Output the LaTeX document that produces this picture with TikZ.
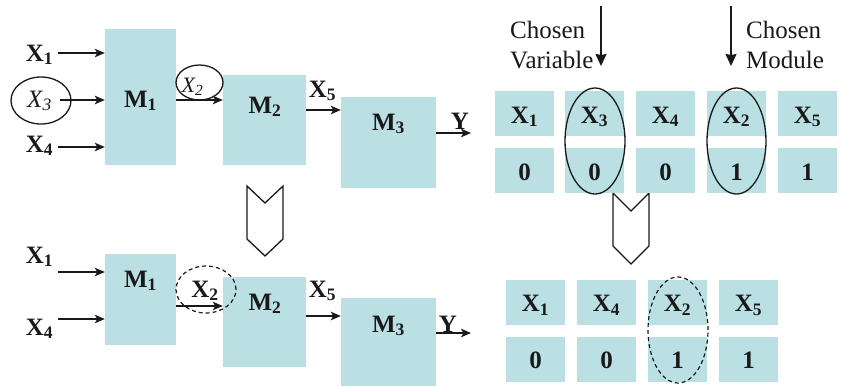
\documentclass[tikz,border=0pt]{standalone}
\usepackage{fontspec}
\setmainfont{Liberation Serif}
\usetikzlibrary{arrows.meta,shapes.geometric}
\definecolor{cellc}{RGB}{186,224,227}
\definecolor{ink}{RGB}{25,25,25}
\begin{document}
\begin{tikzpicture}[x=1pt,y=-1pt,
  every node/.style={font=\fontsize{25}{30}\selectfont, text=ink},
  modbox/.style={fill=cellc, draw=none, inner sep=0pt},
  lbl/.style={anchor=base, inner sep=0pt},
  cell/.style={fill=cellc, draw=none, inner sep=0pt, minimum width=59pt, minimum height=45pt,
    text height=19pt, text depth=0pt, font=\fontsize{25}{30}\selectfont\bfseries},
  arr/.style={draw=ink, line width=1.5pt, -{Stealth[length=10pt,width=8.5pt,inset=2.5pt]}},
  bigarr/.style={draw=ink, line width=1.4pt, -{Stealth[length=12pt,width=11pt,inset=1pt]}},
  ring/.style={draw=ink, line width=1.3pt},
  chev/.style={draw=ink, line width=1.3pt, fill=white, line join=miter}]
\useasboundingbox (0,0) rectangle (845,386);

% ---------- top left ----------
\node[modbox, minimum width=71pt, minimum height=136pt] (m1) at (140.5,97) {};
\node[modbox, minimum width=83pt, minimum height=90pt] (m2) at (264.5,120) {};
\node[modbox, minimum width=95pt, minimum height=91pt] (m3) at (388.5,142.5) {};
\node[lbl] (m1l) at (140.5,107) {\bfseries M\textsubscript{1}};
\node[lbl] (m2l) at (265,113) {\bfseries M\textsubscript{2}};
\node[lbl] (m3l) at (388.5,130) {\bfseries M\textsubscript{3}};

\node[lbl] (x1) at (39.5,61) {\bfseries X\textsubscript{1}};
\node[lbl] (x3) at (39.5,107) {\itshape X\textsubscript{3}};
\node[lbl] (x4) at (39.5,152) {\bfseries X\textsubscript{4}};
\node[draw=ink, line width=1.3pt, ellipse, minimum width=60pt, minimum height=47pt, inner sep=0pt] (x3ring) at (41,100.5) {};
\coordinate (s1) at (58,53);
\coordinate (s3) at (60,100);
\coordinate (s4) at (58,147);
\draw[arr] (s1) -- (s1 -| m1.west);
\draw[arr] (s3) -- (s3 -| m1.west);
\draw[arr] (s4) -- (s4 -| m1.west);

\node[draw=ink, line width=1.3pt, ellipse, minimum width=47pt, minimum height=35pt, inner sep=0pt] (x2ring) at (199.5,82.5) {};
\node[lbl, font=\fontsize{22}{26}\selectfont] (x2) at (192.5,92) {\itshape X\textsubscript{2}};
\draw[arr] (m1.east |- 0,100) -- (m2.west |- 0,100);

\node[lbl] (x5) at (322.5,97) {\bfseries X\textsubscript{5}};
\draw[arr] (m2.east |- 0,110) -- (m3.west |- 0,110);

\coordinate (ytop) at (471,133);
\draw[arr] (m3.east |- ytop) -- (ytop);
\node[lbl] (yl) at (460,129) {\bfseries Y};

% ---------- chevrons ----------
\draw[chev] (247,186) -- (265,203) -- (283,186) -- (283,239) -- (265,256) -- (247,239) -- cycle;
\draw[chev] (613,193) -- (631,211) -- (649,193) -- (649,246) -- (631,264) -- (613,246) -- cycle;

% ---------- bottom left ----------
\node[modbox, minimum width=71pt, minimum height=91pt] (n1) at (140.5,299.5) {};
\node[modbox, minimum width=83pt, minimum height=90pt] (n2) at (264.5,322) {};
\node[modbox, minimum width=95pt, minimum height=88pt] (n3) at (388.5,342) {};
\node[lbl] (n1l) at (140.5,287) {\bfseries M\textsubscript{1}};
\node[lbl] (n2l) at (265,310) {\bfseries M\textsubscript{2}};
\node[lbl] (n3l) at (388.5,332) {\bfseries M\textsubscript{3}};

\node[lbl] (bx1) at (39.5,263) {\bfseries X\textsubscript{1}};
\node[lbl] (bx4) at (39.5,335) {\bfseries X\textsubscript{4}};
\coordinate (t1) at (58,272);
\coordinate (t4) at (58,319);
\draw[arr] (t1) -- (t1 -| n1.west);
\draw[arr] (t4) -- (t4 -| n1.west);

\node[lbl] (bx2) at (205,297) {\bfseries X\textsubscript{2}};
\node[draw=ink, line width=1.2pt, dashed, dash pattern=on 4pt off 3pt, ellipse, minimum width=60pt, minimum height=47pt, inner sep=0pt] (bx2ring) at (206,289.5) {};
\draw[arr] (n1.east |- 0,306) -- (n2.west |- 0,306);

\node[lbl] (bx5) at (322.5,297) {\bfseries X\textsubscript{5}};
\draw[arr] (n2.east |- 0,316) -- (n3.west |- 0,316);

\coordinate (ybot) at (471,333);
\draw[arr] (n3.east |- ybot) -- (ybot);
\node[lbl] (byl) at (448,332) {\bfseries Y};

% ---------- top right ----------
\node[align=left, anchor=north west, inner sep=0pt] (cv) at (510,21) {Chosen\\Variable};
\node[align=left, anchor=north west, inner sep=0pt] (cm) at (746,21) {Chosen\\Module};
\coordinate (av0) at (601,6);
\coordinate (av1) at (601,66);
\coordinate (am0) at (731,6);
\coordinate (am1) at (731,66);
\draw[bigarr] (av0) -- (av1);
\draw[bigarr] (am0) -- (am1);

\node[cell] (a1) at (524.5,113.5) {X\textsubscript{1}};
\node[cell] (a2) at (594.5,113.5) {X\textsubscript{3}};
\node[cell] (a3) at (665.5,113.5) {X\textsubscript{4}};
\node[cell] (a4) at (736.5,113.5) {X\textsubscript{2}};
\node[cell] (a5) at (807.5,113.5) {X\textsubscript{5}};
\node[cell] (b1) at (524.5,170.5) {0};
\node[cell] (b2) at (594.5,170.5) {0};
\node[cell] (b3) at (665.5,170.5) {0};
\node[cell] (b4) at (736.5,170.5) {1};
\node[cell] (b5) at (807.5,170.5) {1};
\node[ring, ellipse, minimum width=60pt, minimum height=106pt, inner sep=0pt] (r1) at (595,141) {};
\node[ring, ellipse, minimum width=59pt, minimum height=106pt, inner sep=0pt] (r2) at (736.5,141) {};

% ---------- bottom right ----------
\node[cell] (c1) at (535.5,302) {X\textsubscript{1}};
\node[cell] (c2) at (606.5,302) {X\textsubscript{4}};
\node[cell] (c3) at (677.5,302) {X\textsubscript{2}};
\node[cell] (c4) at (748.5,302) {X\textsubscript{5}};
\node[cell] (d1) at (535.5,359) {0};
\node[cell] (d2) at (606.5,359) {0};
\node[cell] (d3) at (677.5,359) {1};
\node[cell] (d4) at (748.5,359) {1};
\node[draw=ink, line width=1.2pt, dashed, dash pattern=on 4pt off 3pt, ellipse, minimum width=60pt, minimum height=106pt, inner sep=0pt] (r3) at (678,330) {};
\end{tikzpicture}
\end{document}
